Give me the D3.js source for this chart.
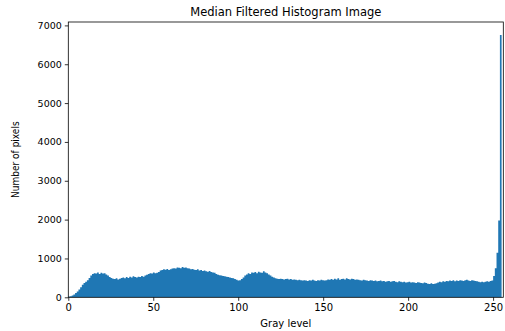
<!DOCTYPE html>
<html lang="en">
<head>
<meta charset="UTF-8">
<script src="https://d3js.org/d3.v7.min.js"></script>
<style>
    body { margin: 0; background: white; }
    text { font-family: "DejaVu Sans", sans-serif; }
</style>
</head>
<body>
<div id="chart"></div>
<script>
    // histogram counts for gray levels 0..255
    var counts = [
        20, 30, 45, 70, 110, 150, 200, 260, 320, 370, 400, 440, 500, 560,
        600, 620, 610, 640, 600, 630, 610, 620, 590, 560, 520, 500, 480, 470, 490, 460, 480,
        500, 510, 490, 520, 500, 530, 510, 540, 520, 510, 530, 520, 550, 530,
        560, 580, 600, 620, 610, 640, 620, 630, 650,
        690, 700, 720, 710, 730, 700, 720, 740,
        750, 740, 770, 760, 750, 780, 760, 770, 750,
        740, 720, 730, 710, 700, 720, 690, 700, 680, 690, 670, 660, 680, 650, 640, 630,
        600, 580, 570, 560, 550, 540, 530, 520, 510, 500, 490, 470,
        450, 430, 440, 470, 510, 560, 590, 620, 600,
        640, 630, 650, 620, 660, 640, 630, 670, 640, 620, 590, 560, 530, 510,
        490, 480, 470, 480, 470, 460, 470, 480, 460, 470, 450, 460, 450, 440,
        450, 440, 430, 440, 430, 420, 440, 430, 450, 430, 420, 440, 430, 450, 440, 430,
        440, 460, 450, 470, 450, 480, 460, 490, 450, 470, 480, 460, 490, 470, 460, 480, 470, 450, 460,
        450, 440, 430, 450, 440, 430, 420, 440, 430, 420, 430, 410, 420, 430, 410, 420,
        400, 410, 420, 400, 410, 420, 400, 390, 410, 400, 390, 400, 380, 390, 400, 380,
        390, 380, 370, 390, 380, 370, 360, 380, 370, 350, 340, 360, 340, 350,
        360, 380, 400, 390, 410, 400, 420, 410, 430, 420, 440, 410, 430, 420, 440, 430, 420, 440, 450, 430, 420, 440, 430, 420,
        410, 400, 390, 400, 390, 400, 410, 400, 420, 430, 550, 750, 1150, 1980, 6750
    ];
    var xTicks = [0, 50, 100, 150, 200, 250];
    var yTicks = [0, 1000, 2000, 3000, 4000, 5000, 6000, 7000];
    var binRange = [0, 255];   // hist(img.ravel(), 256, [0, 255])
    var xLimits = [0, 256];

    var canvasWidth = 505;
    var canvasHeight = 331;
    var plotLeft = 68.3, plotRight = 503.3, plotTop = 22, plotBottom = 297.3;

    var svg = d3.select("#chart").append("svg")
        .attr("width", canvasWidth)
        .attr("height", canvasHeight);

    var xScale = d3.scaleLinear().domain(xLimits).range([plotLeft, plotRight]);
    var yMax = d3.max(counts) * 1.05;
    var yScale = d3.scaleLinear().domain([0, yMax]).range([plotBottom, plotTop]);

    var binWidth = (binRange[1] - binRange[0]) / counts.length;

    // bars drawn as one stepped area so adjacent bins have no seams
    var steps = counts.map(function(c, i) { return { x: binRange[0] + i * binWidth, y: c }; });
    steps.push({ x: binRange[1], y: counts[counts.length - 1] });

    var area = d3.area()
        .curve(d3.curveStepAfter)
        .x(function(d) { return xScale(d.x); })
        .y0(yScale(0))
        .y1(function(d) { return yScale(d.y); });

    svg.append("path")
        .datum(steps)
        .attr("d", area)
        .attr("fill", "#1f77b4");

    // x axis
    var xAxis = svg.append("g")
        .attr("transform", "translate(0," + plotBottom + ")")
        .call(d3.axisBottom(xScale).tickValues(xTicks).tickFormat(d3.format("d"))
            .tickSize(3.5).tickPadding(3.5));
    xAxis.select(".domain").remove();
    xAxis.selectAll("line").attr("stroke", "#000").attr("stroke-width", 0.8);
    xAxis.selectAll("text").attr("font-size", "10px").attr("fill", "#000")
        .style("font-family", "DejaVu Sans");

    // y axis
    var yAxis = svg.append("g")
        .attr("transform", "translate(" + plotLeft + ",0)")
        .call(d3.axisLeft(yScale).tickValues(yTicks).tickFormat(d3.format("d"))
            .tickSize(3.5).tickPadding(3));
    yAxis.select(".domain").remove();
    yAxis.selectAll("line").attr("stroke", "#000").attr("stroke-width", 0.8);
    yAxis.selectAll("text").attr("font-size", "9.5px").attr("fill", "#000")
        .style("font-family", "DejaVu Sans");

    // frame
    svg.append("rect")
        .attr("x", plotLeft).attr("y", plotTop)
        .attr("width", plotRight - plotLeft).attr("height", plotBottom - plotTop)
        .attr("fill", "none").attr("stroke", "#000").attr("stroke-width", 0.8);

    // title and labels
    svg.append("text")
        .attr("x", (plotLeft + plotRight) / 2).attr("y", 16)
        .attr("text-anchor", "middle").attr("font-size", "11.5px")
        .text("Median Filtered Histogram Image");

    svg.append("text")
        .attr("x", (plotLeft + plotRight) / 2).attr("y", 327)
        .attr("text-anchor", "middle").attr("font-size", "10px")
        .text("Gray level");

    svg.append("text")
        .attr("transform", "translate(19," + ((plotTop + plotBottom) / 2) + ") rotate(-90)")
        .attr("text-anchor", "middle").attr("font-size", "10px")
        .style("font-stretch", "condensed")
        .style("font-family", "Liberation Sans Narrow, DejaVu Sans Condensed, DejaVu Sans")
        .text("Number of pixels");
</script>
</body>
</html>
